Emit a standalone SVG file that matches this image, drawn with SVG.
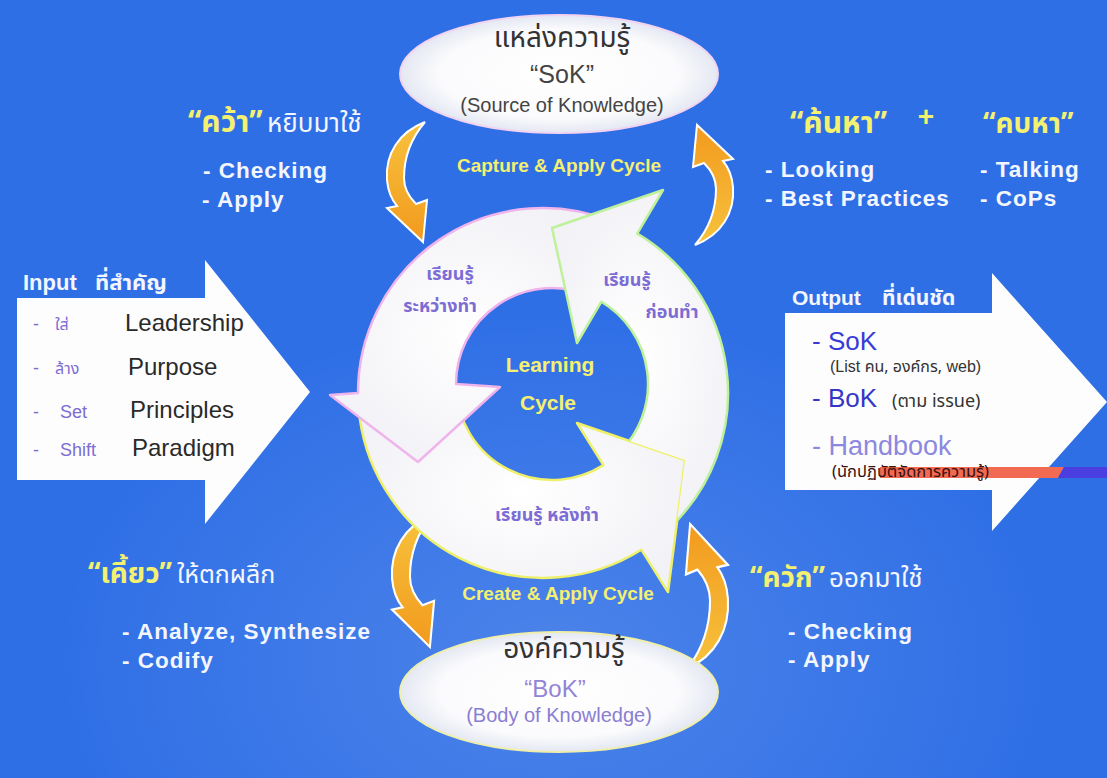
<svg xmlns="http://www.w3.org/2000/svg" width="1107" height="778" viewBox="0 0 1107 778">
<style>
.th{font-family:"Noto Sans Thai","Noto Sans","DejaVu Sans",sans-serif}
.en{font-family:"Liberation Sans",Arial,sans-serif}
.wb{fill:#f4f6ff;font-weight:bold;font-size:22.5px;letter-spacing:1px}
.yl{fill:#f4f070;font-weight:bold}
.wt{fill:#f4f6ff}
.pu{fill:#7c6cd4}
.dk{fill:#2a2a2a}
.orange{fill:url(#og);stroke:#fff;stroke-width:2}
.ring{fill:url(#rg);stroke-width:2.5;stroke-linejoin:round}
</style>
<defs>
<linearGradient id="og" x1="0" y1="0" x2="0" y2="1">
<stop offset="0" stop-color="#f7c23c"/><stop offset="1" stop-color="#f29a1e"/>
</linearGradient>
<radialGradient id="eg" cx="0.5" cy="0.5" r="0.5">
<stop offset="0" stop-color="#ffffff"/><stop offset="0.75" stop-color="#fbfbfd"/><stop offset="1" stop-color="#e4e8f2"/>
</radialGradient>
<radialGradient id="rg" cx="0.5" cy="0.5" r="0.6">
<stop offset="0" stop-color="#ffffff"/><stop offset="1" stop-color="#f1f1f6"/>
</radialGradient>
<radialGradient id="bgGlow" cx="0.5" cy="0.85" r="0.45">
<stop offset="0" stop-color="#ffffff" stop-opacity="0.14"/><stop offset="1" stop-color="#ffffff" stop-opacity="0"/>
</radialGradient>
<mask id="mGreen" maskUnits="userSpaceOnUse" x="0" y="0" width="1107" height="778">
<rect x="0" y="0" width="1107" height="778" fill="#fff"/>
<polygon points="577,423 685,460 668,592" fill="#000"/>
</mask>
<path id="carrow" d="M40,0 C14,10 0,32 2,58 C3,70 7,78 12,84 L2,86 L38,120 L42,78 L31,82 C23,74 19,66 19,56 C19,32 28,14 40,0 Z"/>
</defs>

<g id="background">
<rect x="0" y="0" width="1107" height="778" fill="#2f6fe6"/>
<rect x="0" y="0" width="1107" height="778" fill="url(#bgGlow)"/>
</g>

<g id="connectors">
<use href="#carrow" class="orange" transform="translate(385,122)"/>
<use href="#carrow" class="orange" transform="translate(735,245) rotate(180)"/>
<use href="#carrow" class="orange" transform="translate(390,515) scale(1.05,1.1)"/>
<use href="#carrow" class="orange" transform="translate(730,668) rotate(180) scale(1.05,1.2)"/>
</g>

<g id="node-sok">
<ellipse cx="559" cy="74" rx="159" ry="59" fill="url(#eg)" stroke="#f2d4f2" stroke-width="2"/>
<text class="th" x="562" y="47" font-size="28" text-anchor="middle" fill="#333">แหล่งความรู้</text>
<text class="en" x="562" y="83" font-size="25" text-anchor="middle" fill="#444">“SoK”</text>
<text class="en" x="562" y="112" font-size="20" text-anchor="middle" fill="#444">(Source of Knowledge)</text>
</g>

<g id="node-bok">
<ellipse cx="559" cy="692" rx="159" ry="60" fill="url(#eg)" stroke="#f0eea8" stroke-width="2"/>
<text class="th" x="564" y="658" font-size="28" text-anchor="middle" fill="#333">องค์ความรู้</text>
<text class="en" x="555" y="697" font-size="24" text-anchor="middle" fill="#9484d8">“BoK”</text>
<text class="en" x="559" y="722" font-size="20" text-anchor="middle" fill="#8a7ed2">(Body of Knowledge)</text>
</g>

<g id="node-learning-cycle">
<path class="ring" stroke="#eef06a" d="M358.5,405.9 A185,185 0 0 0 641.3,549.7 L668,592 L685,460 L577,423 L603.4,465.1 A96,96 0 0 1 456.2,390.7 Z"/>
<path class="ring" stroke="#f0b4ec" d="M612.3,221.5 A185,185 0 0 0 358,393 L330,395 L418,462 L500,387 L456,384 A96,96 0 0 1 588,295 Z"/>
<path class="ring" stroke="#bff09a" mask="url(#mGreen)" d="M673.8,523.8 A185,185 0 0 0 637.2,233.7 L663,190 L552,228 L577,343 L601.4,301.7 A96,96 0 0 1 619.9,451.9 Z"/>
<text class="th pu" x="450" y="280" font-size="18" font-weight="bold" text-anchor="middle">เรียนรู้</text>
<text class="th pu" x="440" y="312" font-size="18" font-weight="bold" text-anchor="middle">ระหว่างทำ</text>
<text class="th pu" x="627" y="286" font-size="18" font-weight="bold" text-anchor="middle">เรียนรู้</text>
<text class="th pu" x="672" y="318" font-size="18" font-weight="bold" text-anchor="middle">ก่อนทำ</text>
<text class="th pu" x="547" y="521" font-size="18" font-weight="bold" text-anchor="middle">เรียนรู้  หลังทำ</text>
<text class="en yl" x="550" y="372" font-size="21" text-anchor="middle">Learning</text>
<text class="en yl" x="548" y="410" font-size="21" text-anchor="middle">Cycle</text>
</g>

<g id="label-capture">
<text class="en yl" x="559" y="172" font-size="19" text-anchor="middle">Capture &amp; Apply Cycle</text>
</g>
<g id="label-create">
<text class="en yl" x="558" y="600" font-size="19" text-anchor="middle">Create &amp; Apply Cycle</text>
</g>

<g id="node-grab">
<text class="th yl" x="188" y="132" font-size="30">“คว้า”</text>
<text class="th wt" x="267" y="132" font-size="26">หยิบมาใช้</text>
<text class="en wb" x="203" y="178">- Checking</text>
<text class="en wb" x="202" y="207">- Apply</text>
</g>

<g id="node-search">
<text class="th yl" x="790" y="133" font-size="30">“ค้นหา”</text>
<text class="en yl" x="926" y="126" font-size="28" text-anchor="middle">+</text>
<text class="th yl" x="983" y="133" font-size="28">“คบหา”</text>
<text class="en wb" x="765" y="177">- Looking</text>
<text class="en wb" x="765" y="206">- Best Practices</text>
<text class="en wb" x="980" y="177">- Talking</text>
<text class="en wb" x="980" y="206">- CoPs</text>
</g>

<g id="node-chew">
<text class="th yl" x="88" y="583" font-size="28">“เคี้ยว”</text>
<text class="th wt" x="177" y="583" font-size="25">ให้ตกผลึก</text>
<text class="en wb" x="122" y="639">- Analyze, Synthesize</text>
<text class="en wb" x="122" y="668">- Codify</text>
</g>

<g id="node-scoop">
<text class="th yl" x="750" y="587" font-size="28">“ควัก”</text>
<text class="th wt" x="829" y="587" font-size="26">ออกมาใช้</text>
<text class="en wb" x="788" y="639">- Checking</text>
<text class="en wb" x="788" y="667">- Apply</text>
</g>

<g id="node-input">
<polygon points="17,298 205,298 205,260 310,392 205,524 205,480 17,480" fill="#fdfdfd"/>
<text class="en" x="23" y="290" font-size="22" font-weight="bold" fill="#f4f6ff">Input</text>
<text class="th" x="95" y="290" font-size="22" font-weight="bold" fill="#f4f6ff">ที่สำคัญ</text>
<text class="en pu" x="33" y="330" font-size="18">-</text>
<text class="th pu" x="55" y="330" font-size="16">ใส่</text>
<text class="en dk" x="125" y="331" font-size="24">Leadership</text>
<text class="en pu" x="33" y="374" font-size="18">-</text>
<text class="th pu" x="55" y="374" font-size="16">ล้าง</text>
<text class="en dk" x="128" y="375" font-size="24">Purpose</text>
<text class="en pu" x="33" y="418" font-size="18">-</text>
<text class="en pu" x="60" y="418" font-size="18">Set</text>
<text class="en dk" x="130" y="418" font-size="24">Principles</text>
<text class="en pu" x="33" y="456" font-size="18">-</text>
<text class="en pu" x="60" y="456" font-size="18">Shift</text>
<text class="en dk" x="132" y="456" font-size="24">Paradigm</text>
</g>

<g id="node-output">
<polygon points="785,313 992,313 992,273 1107,402 992,531 992,490 785,490" fill="#fdfdfd"/>
<text class="en" x="792" y="305" font-size="21" font-weight="bold" fill="#f4f6ff">Output</text>
<text class="th" x="882" y="305" font-size="21" font-weight="bold" fill="#f4f6ff">ที่เด่นชัด</text>
<text class="en" x="812" y="350" font-size="26" fill="#3a3ad8">- SoK</text>
<text class="en" x="830" y="372" font-size="16" fill="#333">(List <tspan class="th">คน, องค์กร,</tspan> web)</text>
<text class="en" x="812" y="407" font-size="26" fill="#3535c8">- BoK</text>
<text class="th" x="892" y="407" font-size="18" fill="#333">(ตาม issue)</text>
<text class="en" x="812" y="455" font-size="27" fill="#8c88e0">- Handbook</text>
<polygon points="880,467 1064,467 1058,478 880,478" fill="#f26a52"/>
<polygon points="1064,467 1107,467 1107,478 1058,478" fill="#4a3ee0"/>
<text class="th" x="832" y="477" font-size="16.5" fill="#3a1010">(นักปฏิบัติจัดการความรู้)</text>
</g>
</svg>
